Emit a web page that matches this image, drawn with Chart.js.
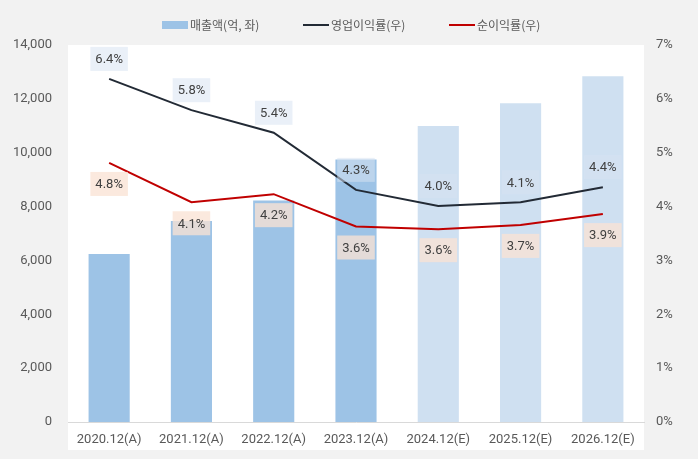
<!DOCTYPE html>
<html>
<head>
<meta charset="utf-8">
<script src="https://cdn.jsdelivr.net/npm/chart.js@4.4.1/dist/chart.umd.min.js"></script>
<style>
  html, body { margin: 0; padding: 0; background: #f2f2f2; }
  #wrap { width: 698px; height: 459px; }
</style>
</head>
<body>
<div id="wrap"><canvas id="chart" width="698" height="459"></canvas></div>
<script>
// 데이터
const categories = ['2020.12(A)', '2021.12(A)', '2022.12(A)', '2023.12(A)', '2024.12(E)', '2025.12(E)', '2026.12(E)'];
const sales = [6240, 7460, 8230, 9750, 10990, 11840, 12840];          // 매출액 (억)
const opMargin = [6.37, 5.79, 5.37, 4.31, 4.01, 4.08, 4.36];           // 영업이익률 (%)
const netMargin = [4.81, 4.08, 4.23, 3.63, 3.58, 3.66, 3.86];          // 순이익률 (%)
const leftTicks = [0, 2000, 4000, 6000, 8000, 10000, 12000, 14000];
const rightTicks = [0, 1, 2, 3, 4, 5, 6, 7];

const textColor = '#595959';
const numFont = 'Roboto, "Noto Sans CJK KR", sans-serif';

function formatNumber(num) {
    return num.toString().replace(/\B(?=(\d{3})+(?!\d))/g, ",");
}

// 흰색 플롯 배경
const plotBg = {
    id: 'plotBg',
    beforeDraw(chart) {
        const { ctx, chartArea } = chart;
        ctx.save();
        ctx.fillStyle = '#ffffff';
        ctx.fillRect(chartArea.left, chartArea.top, chartArea.right - chartArea.left, 450 - chartArea.top);
        ctx.restore();
    }
};

// 라벨 (배경 박스 + 텍스트)
const pointLabels = {
    id: 'pointLabels',
    afterDatasetsDraw(chart) {
        const ctx = chart.ctx;
        ctx.save();
        ctx.font = '13px ' + numFont;
        ctx.textAlign = 'center';
        ctx.textBaseline = 'middle';
        chart.data.datasets.forEach((ds, i) => {
            if (!ds.labelBox) return;
            const meta = chart.getDatasetMeta(i);
            meta.data.forEach((pt, j) => {
                const text = ds.data[j].toFixed(1) + '%';
                const w = ctx.measureText(text).width + 10;
                const h = 24;
                const cy = pt.y + ds.labelOffset;
                ctx.fillStyle = ds.labelBox;
                ctx.fillRect(pt.x - w / 2, cy - h / 2, w, h);
                ctx.fillStyle = '#404040';
                ctx.fillText(text, pt.x, cy + 1);
            });
        });
        ctx.restore();
    }
};

// 범례
const customLegend = {
    id: 'customLegend',
    afterDraw(chart) {
        const ctx = chart.ctx;
        const items = [
            { text: '매출액(억, 좌)', type: 'box', color: '#9dc3e6', x: 162 },
            { text: '영업이익률(우)', type: 'line', color: '#222a35', x: 303 },
            { text: '순이익률(우)', type: 'line', color: '#c00000', x: 449 }
        ];
        const y = 25;
        ctx.save();
        ctx.font = '12px "Noto Sans CJK KR", sans-serif';
        ctx.textBaseline = 'middle';
        ctx.textAlign = 'left';
        items.forEach(it => {
            if (it.type === 'box') {
                ctx.fillStyle = it.color;
                ctx.fillRect(it.x, y - 4, 26, 8);
            } else {
                ctx.strokeStyle = it.color;
                ctx.lineWidth = 2;
                ctx.beginPath();
                ctx.moveTo(it.x, y);
                ctx.lineTo(it.x + 26, y);
                ctx.stroke();
            }
            ctx.fillStyle = textColor;
            ctx.fillText(it.text, it.x + 28, y);
        });
        ctx.restore();
    }
};

new Chart(document.getElementById('chart').getContext('2d'), {
    data: {
        labels: categories,
        datasets: [
            {
                type: 'line',
                label: '영업이익률(우)',
                data: opMargin,
                yAxisID: 'y1',
                borderColor: '#222a35',
                borderWidth: 2,
                pointRadius: 0,
                tension: 0,
                order: 1,
                labelBox: 'rgba(215,226,241,0.53)',
                labelOffset: -20
            },
            {
                type: 'line',
                label: '순이익률(우)',
                data: netMargin,
                yAxisID: 'y1',
                borderColor: '#c00000',
                borderWidth: 2,
                pointRadius: 0,
                tension: 0,
                order: 0,
                labelBox: 'rgba(250,227,212,0.77)',
                labelOffset: 21
            },
            {
                type: 'bar',
                label: '매출액(억, 좌)',
                data: sales,
                yAxisID: 'y',
                backgroundColor: ['#9dc3e6', '#9dc3e6', '#9dc3e6', '#9dc3e6', '#cfe0f1', '#cfe0f1', '#cfe0f1'],
                borderWidth: 0,
                categoryPercentage: 1,
                barPercentage: 0.5,
                order: 2
            }
        ]
    },
    options: {
        responsive: false,
        animation: false,
        layout: { padding: { top: 45, left: 0, right: 0, bottom: 0 } },
        plugins: {
            legend: { display: false },
            tooltip: { enabled: false }
        },
        scales: {
            x: {
                grid: { display: false, drawTicks: false },
                border: { display: true, color: '#d9d9d9', width: 1 },
                ticks: { color: textColor, font: { family: numFont, size: 13 }, padding: 10 },
                afterFit(s) { s.height = 37; }
            },
            y: {
                position: 'left',
                min: 0,
                max: 14000,
                afterBuildTicks(s) { s.ticks = leftTicks.map(v => ({ value: v })); },
                grid: { display: false, drawTicks: false },
                border: { display: false },
                ticks: {
                    color: textColor,
                    font: { family: numFont, size: 13 },
                    padding: 16,
                    callback: v => formatNumber(v)
                },
                afterFit(s) { s.width = 68; }
            },
            y1: {
                position: 'right',
                min: 0,
                max: 7,
                afterBuildTicks(s) { s.ticks = rightTicks.map(v => ({ value: v })); },
                grid: { display: false, drawTicks: false },
                border: { display: false },
                ticks: {
                    color: textColor,
                    font: { family: numFont, size: 13 },
                    padding: 12,
                    callback: v => v + '%'
                },
                afterFit(s) { s.width = 54; }
            }
        }
    },
    plugins: [plotBg, pointLabels, customLegend]
});
</script>
</body>
</html>
